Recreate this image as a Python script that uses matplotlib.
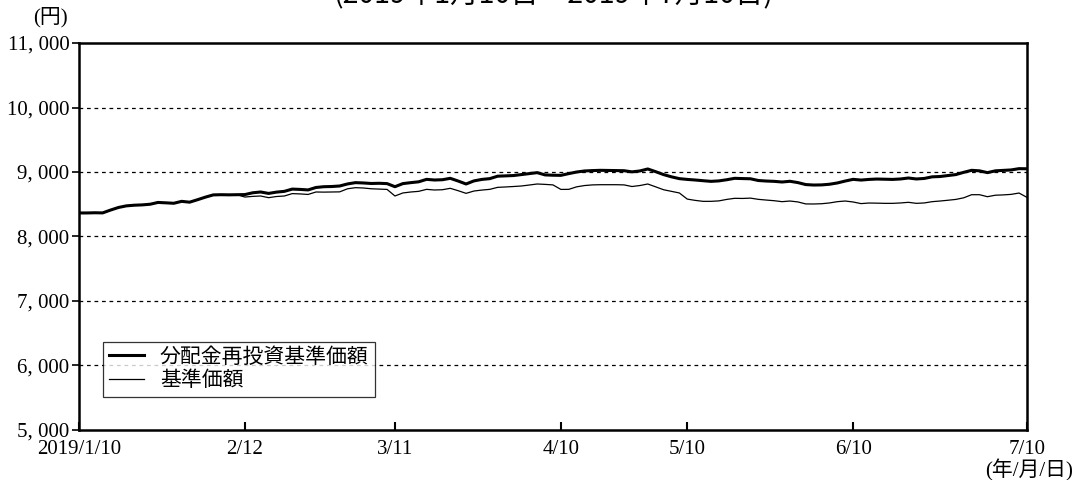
import matplotlib
matplotlib.use("Agg")
import matplotlib.pyplot as plt
from matplotlib.ticker import FixedLocator

plt.rcParams['font.family'] = ['Liberation Serif', 'Noto Sans CJK JP', 'DejaVu Sans']

# Business-day index (0 = 2019/1/10 ... 120 = 2019/7/10)
tick_idx = [0, 21, 40, 61, 77, 98, 120]
tick_labels = ["2019/1/10", "2/12", "3/11", "4/10", "5/10", "6/10", "7/10"]

y_ticks = [5000, 6000, 7000, 8000, 9000, 10000, 11000]
y_tick_labels = ["5, 000", "6, 000", "7, 000", "8, 000", "9, 000", "10, 000", "11, 000"]

reinvested = [
    8365, 8365, 8368, 8366, 8410, 8450, 8475, 8485, 8490, 8500,
    8528, 8522, 8515, 8545, 8532, 8570, 8610, 8645, 8648, 8646,
    8648, 8650, 8678, 8690, 8668, 8688, 8700, 8735, 8730, 8722,
    8760, 8772, 8775, 8783, 8815, 8835, 8830, 8822, 8825, 8820,
    8772, 8820, 8835, 8848, 8886, 8876, 8880, 8902, 8860, 8814,
    8862, 8885, 8897, 8935, 8940, 8945, 8960, 8975, 8990, 8955,
    8950, 8948, 8975, 9000, 9016, 9022, 9026, 9024, 9022, 9020,
    9002, 9016, 9047, 9005, 8960, 8925, 8897, 8885, 8876, 8865,
    8855, 8862, 8880, 8902, 8898, 8895, 8868, 8860, 8855, 8845,
    8856, 8836, 8805, 8798, 8800, 8810, 8830, 8860, 8886, 8875,
    8885, 8891, 8888, 8885, 8892, 8907, 8892, 8900, 8925, 8930,
    8945, 8960, 8995, 9026, 9018, 8990, 9018, 9025, 9032, 9052,
    9050,
]

nav = [
    8365, 8365, 8368, 8366, 8410, 8450, 8475, 8485, 8490, 8500,
    8528, 8522, 8515, 8545, 8532, 8570, 8610, 8645, 8648, 8646,
    8648, 8612, 8622, 8628, 8602, 8620, 8628, 8665, 8660, 8652,
    8690, 8688, 8690, 8692, 8740, 8757, 8752, 8740, 8735, 8730,
    8628, 8675, 8690, 8700, 8731, 8721, 8725, 8747, 8710, 8669,
    8705, 8720, 8731, 8762, 8768, 8775, 8783, 8798, 8814, 8808,
    8800, 8730, 8731, 8770, 8790, 8800, 8803, 8803, 8803, 8800,
    8775, 8790, 8814, 8770, 8725, 8700, 8675, 8580, 8560, 8545,
    8545, 8552, 8575, 8592, 8590, 8595, 8576, 8565, 8555, 8540,
    8550, 8536, 8505, 8504, 8508, 8520, 8540, 8550, 8535, 8510,
    8519, 8517, 8514, 8514, 8520, 8530, 8514, 8520, 8540, 8550,
    8562, 8575, 8600, 8648, 8648, 8617, 8640, 8645, 8653, 8674,
    8607,
]

fig = plt.figure(figsize=(10.76, 4.80), dpi=100)
ax = fig.add_axes([0.0734, 0.1042, 0.881, 0.8062])

x = list(range(len(reinvested)))
ax.plot(x, reinvested, color='black', linewidth=2.2, label='分配金再投資基準価額', zorder=3)
ax.plot(x, nav, color='black', linewidth=0.9, label='基準価額', zorder=3)

ax.set_xlim(0, 120)
ax.set_ylim(5000, 11000)

ax.xaxis.set_major_locator(FixedLocator(tick_idx))
ax.set_xticklabels(tick_labels)
ax.yaxis.set_major_locator(FixedLocator(y_ticks))
ax.set_yticklabels(y_tick_labels)

for g in [6000, 7000, 8000, 9000, 10000]:
    ax.axhline(g, color='black', linestyle=(0, (3, 3)), linewidth=0.9, zorder=1)

for s in ax.spines.values():
    s.set_linewidth(1.8)
    s.set_color('black')

ax.tick_params(axis='x', direction='in', length=6, width=1.5, labelsize=15, pad=7)
ax.tick_params(axis='y', direction='out', length=5, width=1.2, labelsize=15, pad=2)

leg = ax.legend(loc='lower left', bbox_to_anchor=(0.025, 0.085), borderaxespad=0,
                fontsize=15, frameon=True, fancybox=False, handlelength=1.7,
                handletextpad=0.75, borderpad=0.3, labelspacing=0.18)
leg.get_frame().set_edgecolor('black')
leg.get_frame().set_linewidth(0.9)

fig.text(50 / 1076, 1 - 17 / 480, '(円)', ha='center', va='center', fontsize=15)
fig.text(1029 / 1076, 1 - 470 / 480, '(年/月/日)', ha='center', va='center', fontsize=15)
fig.text(553 / 1076, 1 - 3 / 480, '(2019年1月10日～2019年7月10日)', ha='center', va='baseline',
         fontsize=20.5, family=['Noto Sans CJK JP', 'DejaVu Sans'])

fig.savefig('out.png', dpi=100)
